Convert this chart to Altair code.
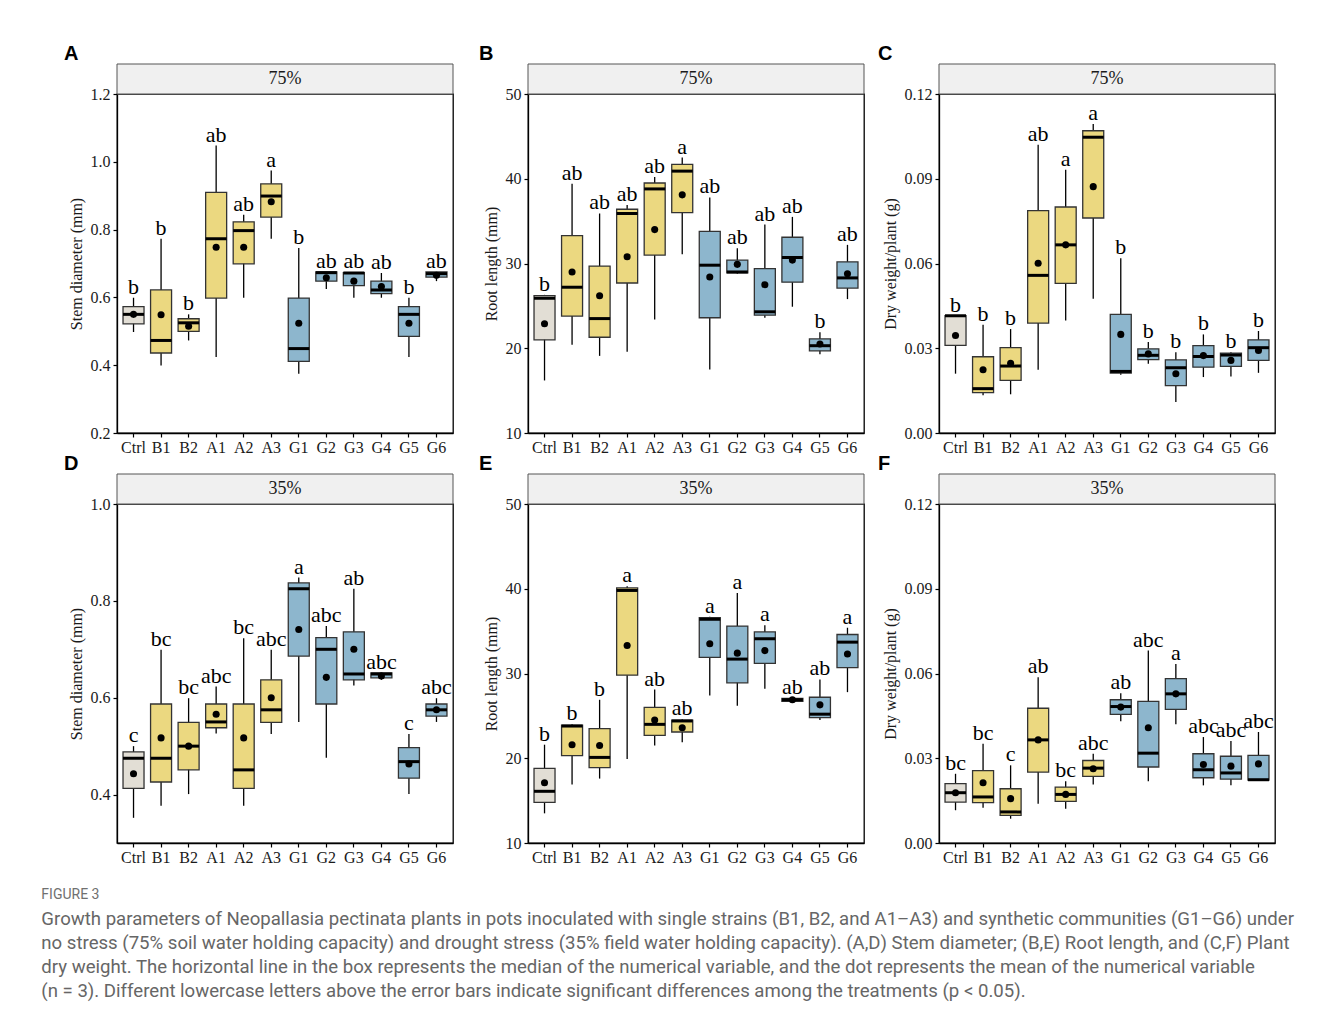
import altair as alt
import pandas as pd

CATS = ["Ctrl", "B1", "B2", "A1", "A2", "A3", "G1", "G2", "G3", "G4", "G5", "G6"]
GROUP = ["Control"] + ["Single"] * 5 + ["Community"] * 6
GROUP_DOMAIN = ["Control", "Single", "Community"]
GROUP_COLORS = ["#e2ded5", "#ebd880", "#8db6cd"]

# ---- Panel A: stem diameter, 75% ----
A_lo = [0.498, 0.399, 0.473, 0.424, 0.599, 0.773, 0.375, 0.625, 0.599, 0.599, 0.424, 0.648]
A_q1 = [0.522, 0.436, 0.500, 0.598, 0.699, 0.837, 0.411, 0.648, 0.635, 0.611, 0.485, 0.660]
A_med = [0.550, 0.473, 0.525, 0.773, 0.797, 0.899, 0.449, 0.673, 0.672, 0.622, 0.550, 0.670]
A_q3 = [0.573, 0.622, 0.537, 0.910, 0.823, 0.935, 0.598, 0.675, 0.673, 0.648, 0.573, 0.675]
A_hi = [0.599, 0.773, 0.550, 1.048, 0.844, 0.974, 0.746, 0.675, 0.675, 0.672, 0.599, 0.675]
A_mean = [0.550, 0.549, 0.515, 0.748, 0.748, 0.882, 0.524, 0.658, 0.648, 0.632, 0.524, 0.665]
A_let = ["b", "b", "b", "ab", "ab", "a", "b", "ab", "ab", "ab", "b", "ab"]

# ---- Panel B: root length, 75% ----
B_lo = [16.2, 20.4, 19.1, 19.6, 23.4, 31.1, 17.5, 28.8, 23.6, 24.9, 19.3, 25.8]
B_q1 = [21.0, 23.8, 21.3, 27.7, 31.0, 36.0, 23.6, 28.9, 23.9, 27.8, 19.7, 27.1]
B_med = [25.9, 27.2, 23.5, 35.9, 38.8, 40.9, 29.8, 29.0, 24.3, 30.7, 20.3, 28.3]
B_q3 = [26.2, 33.3, 29.7, 36.4, 39.5, 41.7, 33.8, 30.4, 29.4, 33.1, 21.1, 30.2]
B_hi = [26.3, 39.4, 35.9, 36.9, 40.2, 42.5, 37.8, 31.8, 34.6, 35.5, 21.9, 32.2]
B_mean = [22.9, 29.0, 26.2, 30.8, 34.0, 38.1, 28.4, 29.9, 27.5, 30.4, 20.5, 28.8]
B_let = ["b", "ab", "ab", "ab", "ab", "a", "ab", "ab", "ab", "ab", "b", "ab"]

# ---- Panel C: dry weight, 75% ----
C_lo = [0.0210, 0.0134, 0.0137, 0.0224, 0.0398, 0.0475, 0.0206, 0.0245, 0.0110, 0.0198, 0.0200, 0.0213]
C_q1 = [0.0310, 0.0143, 0.0186, 0.0389, 0.0530, 0.0761, 0.0212, 0.0260, 0.0168, 0.0233, 0.0236, 0.0257]
C_med = [0.0415, 0.0157, 0.0237, 0.0558, 0.0666, 0.1047, 0.0218, 0.0275, 0.0231, 0.0271, 0.0276, 0.0302]
C_q3 = [0.0415, 0.0270, 0.0302, 0.0787, 0.0800, 0.1070, 0.0420, 0.0298, 0.0259, 0.0309, 0.0283, 0.0330]
C_hi = [0.0415, 0.0383, 0.0368, 0.1020, 0.0932, 0.1094, 0.0619, 0.0322, 0.0286, 0.0349, 0.0286, 0.0361]
C_mean = [0.0345, 0.0224, 0.0247, 0.0601, 0.0666, 0.0872, 0.0349, 0.0280, 0.0210, 0.0274, 0.0257, 0.0292]
C_let = ["b", "b", "b", "ab", "a", "a", "b", "b", "b", "b", "b", "b"]

# ---- Panel D: stem diameter, 35% ----
D_lo = [0.352, 0.377, 0.401, 0.526, 0.377, 0.525, 0.550, 0.476, 0.625, 0.637, 0.401, 0.550]
D_q1 = [0.413, 0.426, 0.451, 0.538, 0.413, 0.549, 0.686, 0.587, 0.637, 0.641, 0.434, 0.562]
D_med = [0.475, 0.475, 0.500, 0.550, 0.451, 0.575, 0.825, 0.700, 0.649, 0.649, 0.468, 0.575]
D_q3 = [0.488, 0.587, 0.549, 0.587, 0.587, 0.637, 0.837, 0.724, 0.736, 0.651, 0.497, 0.587]
D_hi = [0.500, 0.699, 0.599, 0.623, 0.723, 0.699, 0.848, 0.748, 0.825, 0.652, 0.525, 0.599]
D_mean = [0.443, 0.517, 0.500, 0.566, 0.517, 0.600, 0.741, 0.642, 0.700, 0.645, 0.463, 0.575]
D_let = ["c", "bc", "bc", "abc", "bc", "abc", "a", "abc", "ab", "abc", "c", "abc"]

# ---- Panel E: root length, 35% ----
E_lo = [13.5, 16.9, 17.6, 19.9, 21.5, 21.9, 27.4, 26.2, 28.2, 26.7, 24.5, 27.8]
E_q1 = [14.8, 20.3, 18.9, 29.8, 22.7, 23.1, 31.9, 28.9, 31.2, 26.7, 24.8, 30.7]
E_med = [16.1, 23.8, 20.1, 39.8, 24.0, 24.4, 36.4, 31.7, 34.1, 26.9, 25.2, 33.7]
E_q3 = [18.8, 23.9, 23.5, 40.1, 26.0, 24.5, 36.6, 35.6, 34.9, 27.05, 27.2, 34.6]
E_hi = [21.6, 24.0, 26.9, 40.3, 28.1, 24.6, 36.7, 39.5, 35.7, 27.1, 29.3, 35.4]
E_mean = [17.1, 21.6, 21.5, 33.3, 24.5, 23.6, 33.5, 32.4, 32.7, 26.9, 26.3, 32.3]
E_let = ["b", "b", "b", "a", "ab", "ab", "a", "a", "a", "ab", "ab", "a"]

# ---- Panel F: dry weight, 35% ----
F_lo = [0.0116, 0.0125, 0.0086, 0.0139, 0.0121, 0.0207, 0.0431, 0.0219, 0.0420, 0.0204, 0.0204, 0.0222]
F_q1 = [0.0145, 0.0143, 0.0098, 0.0251, 0.0147, 0.0236, 0.0455, 0.0269, 0.0473, 0.0231, 0.0226, 0.0223]
F_med = [0.0178, 0.0163, 0.0110, 0.0365, 0.0172, 0.0265, 0.0483, 0.0318, 0.0528, 0.0259, 0.0248, 0.0224]
F_q3 = [0.0210, 0.0256, 0.0192, 0.0477, 0.0198, 0.0292, 0.0507, 0.0501, 0.0582, 0.0316, 0.0307, 0.0310]
F_hi = [0.0245, 0.0351, 0.0275, 0.0587, 0.0219, 0.0316, 0.0530, 0.0681, 0.0634, 0.0375, 0.0361, 0.0393]
F_mean = [0.0178, 0.0213, 0.0157, 0.0365, 0.0172, 0.0263, 0.0481, 0.0408, 0.0528, 0.0278, 0.0272, 0.0280]
F_let = ["bc", "bc", "c", "ab", "bc", "abc", "ab", "abc", "a", "abc", "abc", "abc"]

PANEL_LETTERS = ["A", "B", "C", "D", "E", "F"]
STRIPS = ["75%", "75%", "75%", "35%", "35%", "35%"]
Y_TITLES = ["Stem diameter (mm)", "Root length (mm)", "Dry weight/plant (g)"] * 2
Y_DOMAINS = [[0.2, 1.2], [10, 50], [0, 0.12], [0.3, 1.0], [10, 50], [0, 0.12]]
Y_TICKS = [[0.2, 0.4, 0.6, 0.8, 1.0, 1.2], [10, 20, 30, 40, 50], [0, 0.03, 0.06, 0.09, 0.12],
           [0.4, 0.6, 0.8, 1.0], [10, 20, 30, 40, 50], [0, 0.03, 0.06, 0.09, 0.12]]
Y_FORMATS = [".1f", "d", ".2f", ".1f", "d", ".2f"]

PANEL_DATA = [
    (A_lo, A_q1, A_med, A_q3, A_hi, A_mean, A_let),
    (B_lo, B_q1, B_med, B_q3, B_hi, B_mean, B_let),
    (C_lo, C_q1, C_med, C_q3, C_hi, C_mean, C_let),
    (D_lo, D_q1, D_med, D_q3, D_hi, D_mean, D_let),
    (E_lo, E_q1, E_med, E_q3, E_hi, E_mean, E_let),
    (F_lo, F_q1, F_med, F_q3, F_hi, F_mean, F_let),
]

W = 336
H = 339
STRIP_H = 30
SERIF = "Liberation Serif"
BOX_W = 21


def make_panel(i):
    lo, q1, med, q3, hi, mean, let = PANEL_DATA[i]
    df = pd.DataFrame({"cat": CATS, "grp": GROUP, "lo": lo, "q1": q1, "med": med,
                       "q3": q3, "hi": hi, "mean": mean, "let": let})
    strip_df = pd.DataFrame({"label": [STRIPS[i]]})

    yscale = alt.Scale(domain=Y_DOMAINS[i], nice=False, zero=False)
    yaxis = alt.Axis(title=Y_TITLES[i], values=Y_TICKS[i], format=Y_FORMATS[i],
                     titlePadding=6, labelPadding=3, grid=False)
    xenc = alt.X("cat:N", sort=CATS, scale=alt.Scale(paddingInner=0, paddingOuter=0.1),
                 axis=alt.Axis(title=None, labelAngle=0, bandPosition=0.5, labelPadding=2, grid=False))

    def Y(field):
        return alt.Y(field, type="quantitative", scale=yscale, axis=yaxis)

    base = alt.Chart(df).encode(x=xenc)
    whisk = base.mark_rule(color="black", strokeWidth=1.3).encode(y=Y("lo"), y2="hi")
    box = base.mark_bar(size=BOX_W, stroke="#333333", strokeWidth=1.3).encode(
        y=Y("q1"), y2="q3",
        color=alt.Color("grp:N", scale=alt.Scale(domain=GROUP_DOMAIN, range=GROUP_COLORS), legend=None))
    medl = base.mark_tick(size=BOX_W, thickness=3, color="black", opacity=1).encode(y=Y("med"))
    meanp = base.mark_circle(size=50, color="black", opacity=1).encode(y=Y("mean"))
    lab = base.mark_text(baseline="alphabetic", dy=-4, font=SERIF, fontSize=22, color="black").encode(
        y=Y("hi"), text="let:N")

    strip_rect = alt.Chart(strip_df).mark_rect(fill="#f0f0f0", stroke="#555555", strokeWidth=1).encode(
        x=alt.value(0), x2=alt.value(W), y=alt.value(-STRIP_H), y2=alt.value(0))
    strip_txt = alt.Chart(strip_df).mark_text(font=SERIF, fontSize=18, color="#1a1a1a",
                                              baseline="middle", align="center").encode(
        x=alt.value(W / 2), y=alt.value(-STRIP_H / 2), text="label:N")

    return alt.layer(strip_rect, strip_txt, whisk, box, medl, meanp, lab).properties(
        width=W, height=H,
        title=alt.TitleParams(text=PANEL_LETTERS[i], anchor="start", frame="bounds",
                              font="Liberation Sans", fontSize=20, fontWeight="bold",
                              color="black", dx=-4, offset=0))


CAPTION = [
    "Growth parameters of Neopallasia pectinata plants in pots inoculated with single strains (B1, B2, and A1–A3) and synthetic communities (G1–G6) under",
    "no stress (75% soil water holding capacity) and drought stress (35% field water holding capacity). (A,D) Stem diameter; (B,E) Root length, and (C,F) Plant",
    "dry weight. The horizontal line in the box represents the median of the numerical variable, and the dot represents the mean of the numerical variable",
    "(n = 3). Different lowercase letters above the error bars indicate significant differences among the treatments (p < 0.05).",
]

chart = alt.concat(*[make_panel(i) for i in range(6)], columns=3,
                   spacing={"row": 71, "column": 75}, bounds="flush").properties(
    title=alt.TitleParams(text="FIGURE 3", subtitle=CAPTION, orient="bottom", anchor="start",
                          frame="bounds", dx=-22, offset=22, font="Roboto", fontSize=14,
                          fontWeight="normal", color="#707070", subtitleFont="Roboto",
                          subtitleFontSize=18.6, subtitleColor="#666666", subtitleLineHeight=24,
                          subtitlePadding=8),
    padding={"left": 41, "top": 42, "right": 10, "bottom": 10},
    background="white",
).configure_view(stroke="black", strokeWidth=1.3).configure_axis(
    grid=False, domainColor="black", domainWidth=1.3, tickColor="black", tickWidth=1.2,
    tickSize=4, labelFont=SERIF, labelFontSize=16, labelColor="#1a1a1a",
    titleFont=SERIF, titleFontSize=16, titleFontWeight="normal", titleColor="#1a1a1a"
)

chart.save("out.html", embed_options={"renderer": "svg", "actions": False})
